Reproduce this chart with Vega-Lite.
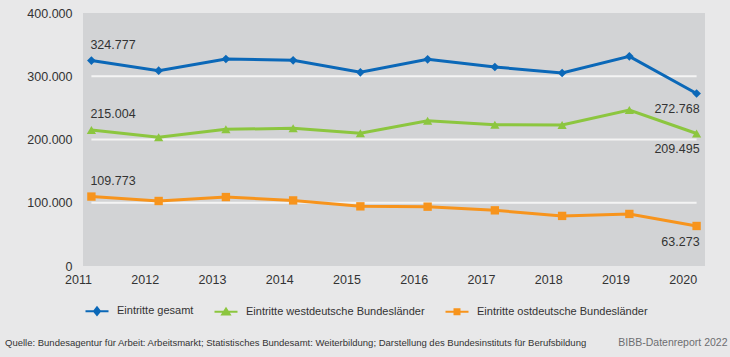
{
  "$schema": "https://vega.github.io/schema/vega-lite/v6.json",
  "width": 622,
  "height": 253,
  "autosize": {"type": "none"},
  "padding": {"left": 83, "top": 13, "right": 25, "bottom": 91},
  "background": "#e8e8e9",
  "config": {
    "locale": {"number": {"decimal": ",", "thousands": ".", "grouping": [3], "currency": ["", " €"]}},
    "view": {"fill": "#d2d3d5", "stroke": null},
    "font": "Liberation Sans",
    "axis": {"domain": false, "ticks": false, "grid": false, "labelFont": "Liberation Sans", "labelFontSize": 12.5, "labelColor": "#333333"}
  },
  "title": {
    "text": "Quelle: Bundesagentur für Arbeit: Arbeitsmarkt; Statistisches Bundesamt: Weiterbildung; Darstellung des Bundesinstituts für Berufsbildung",
    "orient": "bottom",
    "anchor": "start",
    "frame": "group",
    "dx": -78,
    "offset": -10,
    "font": "Liberation Sans",
    "fontSize": 9.5,
    "fontWeight": "normal",
    "color": "#333333"
  },
  "datasets": {
    "series": [
      {"Jahr": 2011, "Reihe": "Eintritte gesamt", "Wert": 324777},
      {"Jahr": 2012, "Reihe": "Eintritte gesamt", "Wert": 308800},
      {"Jahr": 2013, "Reihe": "Eintritte gesamt", "Wert": 327300},
      {"Jahr": 2014, "Reihe": "Eintritte gesamt", "Wert": 325200},
      {"Jahr": 2015, "Reihe": "Eintritte gesamt", "Wert": 306200},
      {"Jahr": 2016, "Reihe": "Eintritte gesamt", "Wert": 326800},
      {"Jahr": 2017, "Reihe": "Eintritte gesamt", "Wert": 314600},
      {"Jahr": 2018, "Reihe": "Eintritte gesamt", "Wert": 305100},
      {"Jahr": 2019, "Reihe": "Eintritte gesamt", "Wert": 331500},
      {"Jahr": 2020, "Reihe": "Eintritte gesamt", "Wert": 272768},
      {"Jahr": 2011, "Reihe": "Eintritte westdeutsche Bundesländer", "Wert": 215004},
      {"Jahr": 2012, "Reihe": "Eintritte westdeutsche Bundesländer", "Wert": 203500},
      {"Jahr": 2013, "Reihe": "Eintritte westdeutsche Bundesländer", "Wert": 216100},
      {"Jahr": 2014, "Reihe": "Eintritte westdeutsche Bundesländer", "Wert": 217700},
      {"Jahr": 2015, "Reihe": "Eintritte westdeutsche Bundesländer", "Wert": 209800},
      {"Jahr": 2016, "Reihe": "Eintritte westdeutsche Bundesländer", "Wert": 229700},
      {"Jahr": 2017, "Reihe": "Eintritte westdeutsche Bundesländer", "Wert": 223400},
      {"Jahr": 2018, "Reihe": "Eintritte westdeutsche Bundesländer", "Wert": 222900},
      {"Jahr": 2019, "Reihe": "Eintritte westdeutsche Bundesländer", "Wert": 246600},
      {"Jahr": 2020, "Reihe": "Eintritte westdeutsche Bundesländer", "Wert": 209495},
      {"Jahr": 2011, "Reihe": "Eintritte ostdeutsche Bundesländer", "Wert": 109773},
      {"Jahr": 2012, "Reihe": "Eintritte ostdeutsche Bundesländer", "Wert": 102800},
      {"Jahr": 2013, "Reihe": "Eintritte ostdeutsche Bundesländer", "Wert": 109000},
      {"Jahr": 2014, "Reihe": "Eintritte ostdeutsche Bundesländer", "Wert": 103700},
      {"Jahr": 2015, "Reihe": "Eintritte ostdeutsche Bundesländer", "Wert": 94300},
      {"Jahr": 2016, "Reihe": "Eintritte ostdeutsche Bundesländer", "Wert": 93800},
      {"Jahr": 2017, "Reihe": "Eintritte ostdeutsche Bundesländer", "Wert": 88000},
      {"Jahr": 2018, "Reihe": "Eintritte ostdeutsche Bundesländer", "Wert": 79200},
      {"Jahr": 2019, "Reihe": "Eintritte ostdeutsche Bundesländer", "Wert": 82300},
      {"Jahr": 2020, "Reihe": "Eintritte ostdeutsche Bundesländer", "Wert": 63273}
    ],
    "grid": [{"g": 100000}, {"g": 200000}, {"g": 300000}]
  },
  "layer": [
    {
      "data": {"name": "grid"},
      "mark": {"type": "rule", "color": "#f4f4f4", "strokeWidth": 2},
      "encoding": {
        "y": {"field": "g", "type": "quantitative", "title": null},
        "x": {"datum": 2011, "type": "ordinal"},
        "x2": {"datum": 2020}
      }
    },
    {
      "data": {"name": "series"},
      "encoding": {
        "x": {
          "field": "Jahr", "type": "ordinal",
          "scale": {"type": "point", "padding": 0.125},
          "axis": {
            "labelAngle": 0, "labelPadding": 13,
            "title": "BIBB-Datenreport 2022",
            "titleX": 644, "titleY": 76, "titleAlign": "right", "titleAnchor": "end",
            "titleBaseline": "middle", "titleFont": "Liberation Sans",
            "titleFontSize": 10.5, "titleFontWeight": "normal", "titleColor": "#6d6e71"
          }
        },
        "y": {
          "field": "Wert", "type": "quantitative",
          "scale": {"domain": [0, 400000], "nice": false},
          "axis": {"values": [0, 100000, 200000, 300000, 400000], "format": ",d", "labelPadding": 11, "title": null}
        },
        "color": {
          "field": "Reihe", "type": "nominal",
          "scale": {
            "domain": ["Eintritte gesamt", "Eintritte westdeutsche Bundesländer", "Eintritte ostdeutsche Bundesländer"],
            "range": ["#0b68b8", "#8cc63f", "#f7941d"]
          },
          "legend": {
            "title": null,
            "orient": "none",
            "legendX": 8,
            "legendY": 292,
            "direction": "horizontal",
            "symbolSize": 100,
            "labelOffset": 14,
            "columnPadding": 16,
            "labelLimit": 0,
            "labelFont": "Liberation Sans",
            "labelFontSize": 11,
            "labelColor": "#333333",
            "encode": {
              "symbols": {
                "update": {
                  "shape": {"signal": "datum.value === 'Eintritte gesamt' ? 'M-2.3,0H2.3M0,-0.75L0.6,0L0,0.75L-0.6,0Z' : (datum.value === 'Eintritte ostdeutsche Bundesländer' ? 'M-2.3,0H2.3M-0.5,-0.5H0.5V0.5H-0.5Z' : 'M-2.3,0H2.3M0,-0.6L0.75,0.55L-0.75,0.55Z')"},
                  "fill": {"signal": "scale('color', datum.value)"},
                  "stroke": {"signal": "scale('color', datum.value)"},
                  "strokeWidth": {"value": 2},
                  "opacity": {"value": 1}
                }
              }
            }
          }
        }
      },
      "layer": [
        {"mark": {"type": "line", "strokeWidth": 3}},
        {
          "transform": [{"filter": "datum.Reihe === 'Eintritte gesamt'"}],
          "mark": {"type": "point", "filled": true, "opacity": 1, "shape": "diamond", "size": 75}
        },
        {
          "transform": [{"filter": "datum.Reihe === 'Eintritte westdeutsche Bundesländer'"}],
          "mark": {"type": "point", "filled": true, "opacity": 1, "shape": "triangle-up", "size": 85}
        },
        {
          "transform": [{"filter": "datum.Reihe === 'Eintritte ostdeutsche Bundesländer'"}],
          "mark": {"type": "point", "filled": true, "opacity": 1, "shape": "square", "size": 70}
        },
        {
          "transform": [{"filter": "datum.Jahr === 2011"}],
          "mark": {"type": "text", "align": "left", "baseline": "middle", "dx": -1, "dy": -16, "fontSize": 12.5, "font": "Liberation Sans"},
          "encoding": {"text": {"field": "Wert", "type": "quantitative", "format": ",d"}, "color": {"value": "#333333"}}
        },
        {
          "transform": [{"filter": "datum.Jahr === 2020"}],
          "mark": {"type": "text", "align": "right", "baseline": "middle", "dx": 3, "dy": 16, "fontSize": 12.5, "font": "Liberation Sans"},
          "encoding": {"text": {"field": "Wert", "type": "quantitative", "format": ",d"}, "color": {"value": "#333333"}}
        }
      ]
    }
  ]
}
